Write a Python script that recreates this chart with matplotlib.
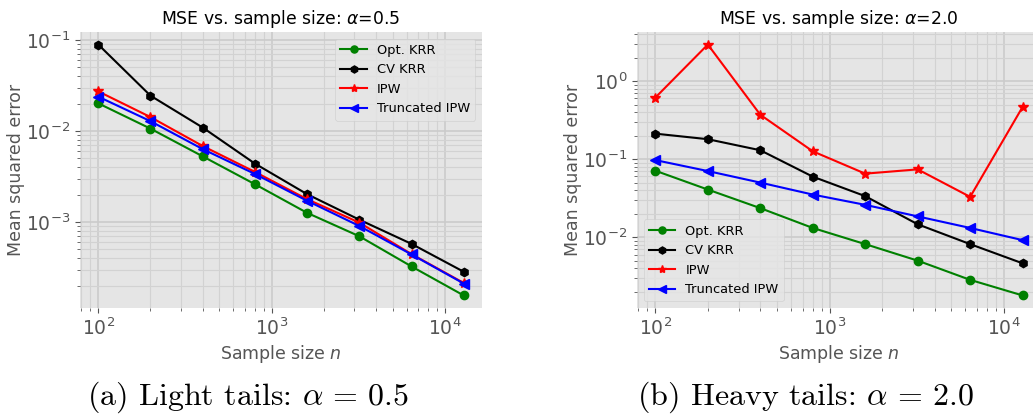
import numpy as np
import matplotlib
matplotlib.use("Agg")
import matplotlib.pyplot as plt

plt.style.use("ggplot")

n = [100, 200, 400, 800, 1600, 3200, 6400, 12800]

# Light tails, alpha = 0.5
light_opt = [0.0201, 0.0106, 0.00526, 0.0026, 0.00126, 0.000697, 0.000325, 0.000156]
light_cv = [0.0889, 0.0244, 0.0109, 0.00438, 0.00202, 0.00106, 0.000575, 0.000284]
light_ipw = [0.0272, 0.0142, 0.00683, 0.00355, 0.00178, 0.000984, 0.000444, 0.000214]
light_tipw = [0.0238, 0.0128, 0.00632, 0.00337, 0.00171, 0.000904, 0.000440, 0.000211]

# Heavy tails, alpha = 2.0
heavy_opt = [0.0711, 0.0408, 0.0236, 0.01316, 0.00817, 0.00502, 0.00285, 0.0018]
heavy_cv = [0.212, 0.180, 0.130, 0.0597, 0.0336, 0.01466, 0.00817, 0.00464]
heavy_ipw = [0.614, 2.93, 0.370, 0.126, 0.0652, 0.074, 0.0329, 0.467]
heavy_tipw = [0.0972, 0.0704, 0.0501, 0.0352, 0.026, 0.0185, 0.01316, 0.00919]

labels = ["Opt. KRR", "CV KRR", "IPW", "Truncated IPW"]
titles = [r"MSE vs. sample size: $\alpha$=0.5", r"MSE vs. sample size: $\alpha$=2.0"]
captions = [r"(a) Light tails: $\alpha\, =\, 0.5$", r"(b) Heavy tails: $\alpha\, =\, 2.0$"]

styles = [dict(color="g", marker="o", markersize=6),
          dict(color="k", marker="h", markersize=6),
          dict(color="r", marker="*", markersize=7),
          dict(color="b", marker="<", markersize=7)]

W, H = 1033, 418
fig = plt.figure(figsize=(W / 100, H / 100), dpi=100)

def px_axes(x0, y0, x1, y1):
    return fig.add_axes([x0 / W, 1 - y1 / H, (x1 - x0) / W, (y1 - y0) / H])

ax1 = px_axes(80, 32, 482, 308)
ax2 = px_axes(637, 32, 1041, 308)

datasets = [[light_opt, light_cv, light_ipw, light_tipw],
            [heavy_opt, heavy_cv, heavy_ipw, heavy_tipw]]
legend_locs = ["upper right", "lower left"]

for ax, data, title, loc in zip([ax1, ax2], datasets, titles, legend_locs):
    for series, lab, st in zip(data, labels, styles):
        ax.plot(n, series, label=lab, linewidth=1.5, **st)
    ax.set_xscale("log")
    ax.set_yscale("log")
    ax.grid(True, which="major", color="#cbcbcb", linewidth=1.2)
    ax.grid(True, which="minor", color="#d2d2d2", linewidth=0.8)
    ax.set_title(title, fontsize=12.4, color="black", pad=6)
    ax.set_xlabel("Sample size $n$", fontsize=12.5, color="#555555", labelpad=3)
    ax.set_ylabel("Mean squared error", fontsize=12.5, color="#555555", labelpad=1)
    ax.tick_params(axis="both", which="major", labelsize=13.5, colors="#555555")
    ax.tick_params(axis="both", which="minor", colors="#555555")
    for sp in ax.spines.values():
        sp.set_visible(False)
    leg = ax.legend(loc=loc, fontsize=9.4, frameon=True, markerscale=0.85)
    leg.get_frame().set_facecolor("#E5E5E5")
    leg.get_frame().set_edgecolor("#cccccc")

fig.text(248 / W, 1 - 397 / H, captions[0], ha="center", va="center",
         fontsize=23, family="cmr10", math_fontfamily="cm")
fig.text(806 / W, 1 - 397 / H, captions[1], ha="center", va="center",
         fontsize=23, family="cmr10", math_fontfamily="cm")

fig.savefig("out.png", dpi=100)
